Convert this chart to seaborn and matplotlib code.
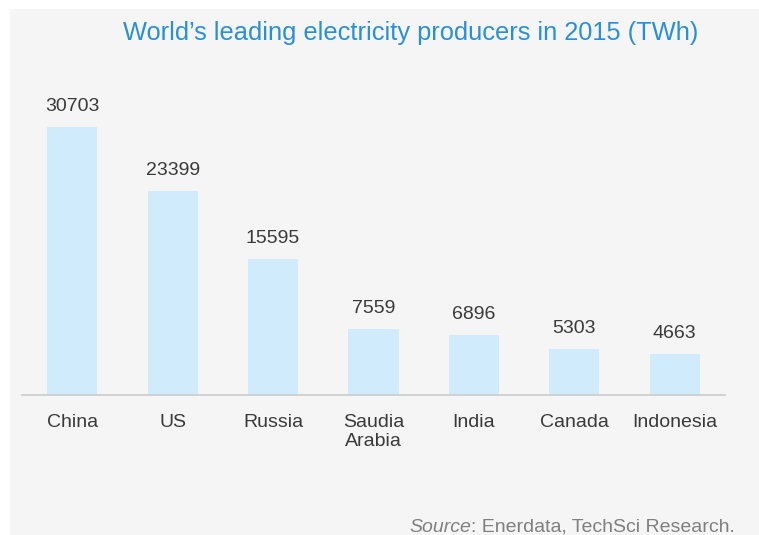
import matplotlib
matplotlib.use("Agg")
import matplotlib.pyplot as plt
import matplotlib.patches as mpatches
import seaborn as sns
import pandas as pd

countries = ["China", "US", "Russia", "Saudia\nArabia", "India", "Canada", "Indonesia"]
production_twh = [30703, 23399, 15595, 7559, 6896, 5303, 4663]

sns.set_theme(style="white")
plt.rcParams["font.family"] = ["Liberation Sans", "DejaVu Sans"]

W, H = 759, 535
fig = plt.figure(figsize=(W / 100, H / 100), dpi=100)
fig.patch.set_facecolor("white")

# light grey panel behind the chart
fig.patches.append(mpatches.Rectangle((10 / W, 0), 1 - 10 / W, 1 - 9 / H,
                                      transform=fig.transFigure, facecolor="#f5f5f5",
                                      edgecolor="none", zorder=-10))

ax = fig.add_axes([22 / W, 1 - 395 / H, (725 - 22) / W, (395 - 95) / H])
ax.set_facecolor("none")
ax.set_zorder(1)

df = pd.DataFrame({"country": countries, "twh": production_twh})
sns.barplot(data=df, x="country", y="twh", color="#d0ebfc", saturation=1,
            width=0.5, linewidth=0, ax=ax)

ax.set_xlim(-0.5, len(countries) - 0.5)
ax.set_ylim(0, 30703 * 300 / 268)

for i, v in enumerate(production_twh):
    ax.annotate(f"{v}", (i, v), xytext=(0, 12), textcoords="offset pixels",
                ha="center", va="bottom", fontsize=14, color="#3a3a3a")

for s in ["top", "right", "left"]:
    ax.spines[s].set_visible(False)
ax.spines["bottom"].set_color("#cccccc")
ax.spines["bottom"].set_linewidth(1.2)
ax.set_yticks([])
ax.tick_params(axis="x", length=0, pad=13.5, labelsize=14, labelcolor="#3a3a3a")
ax.set_xlabel("")
ax.set_ylabel("")

fig.text(411 / W, 1 - 33 / H, "World\u2019s leading electricity producers in 2015 (TWh)",
         ha="center", va="center", fontsize=18.3, color="#2b8fd3")

src = fig.text(735 / W, 1 - 527 / H, ": Enerdata, TechSci Research.", ha="right",
               va="center", fontsize=14, color="#808080")
fig.canvas.draw()
bb = src.get_window_extent()
fig.text(bb.x0 / W, 1 - 527 / H, "Source", ha="right", va="center", fontsize=14,
         color="#808080", style="italic")

fig.savefig("out.png", dpi=100, facecolor=fig.get_facecolor())
